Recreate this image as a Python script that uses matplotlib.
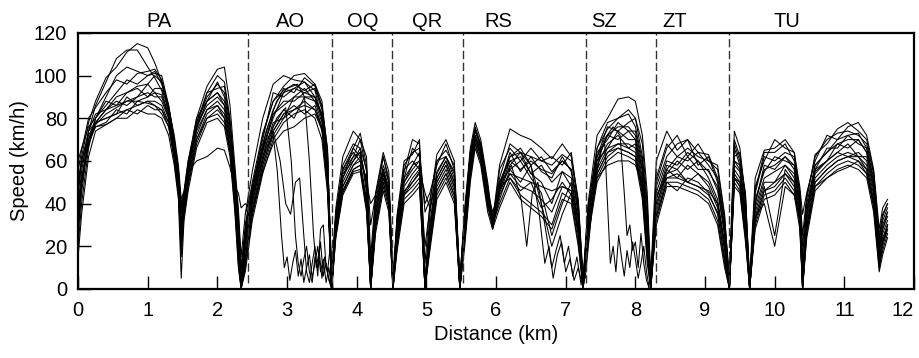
import matplotlib
matplotlib.use("Agg")
import matplotlib.pyplot as plt

plt.rcParams["font.family"] = ["Liberation Sans", "DejaVu Sans"]
plt.rcParams["font.size"] = 14.5

# shared distance grid (km) for the full runs
dist_km = [
    0.00, 0.05, 0.15, 0.25, 0.40, 0.55, 0.70, 0.85, 1.00, 1.10, 1.20, 1.30, 1.38, 1.44, 1.48, 1.52,
    1.58, 1.70, 1.85, 2.00, 2.10, 2.18, 2.25, 2.30, 2.34, 2.40,
    2.50, 2.65, 2.80, 2.95, 3.10, 3.25, 3.40, 3.50, 3.58, 3.64,
    3.70, 3.80, 3.95, 4.05, 4.14, 4.20, 4.27, 4.38, 4.46, 4.52,
    4.58, 4.68, 4.80, 4.90, 4.98, 5.05, 5.15, 5.28, 5.40, 5.48,
    5.55, 5.63, 5.70, 5.78, 5.88, 5.95, 6.05, 6.20, 6.35, 6.50,
    6.65, 6.80, 6.95, 7.08, 7.18, 7.25, 7.32, 7.45, 7.60, 7.75,
    7.90, 8.00, 8.10, 8.17, 8.22, 8.30, 8.45, 8.60, 8.75, 8.90,
    9.05, 9.18, 9.28, 9.35, 9.42, 9.50, 9.58, 9.64, 9.72, 9.85,
    10.00, 10.15, 10.28, 10.36, 10.40, 10.46, 10.58, 10.75, 10.90, 11.05,
    11.20, 11.32, 11.42, 11.50, 11.55, 11.62,
]

# speed (km/h) of each run on that grid
run_01 = [
    45, 62, 78, 88, 99, 104, 111, 115, 113, 106, 97, 82, 68, 55, 35, 42,
    58, 80, 95, 103, 104, 86, 58, 38, 15, 35,
    55, 80, 96, 100, 98, 97, 93, 80, 62, 8,
    38, 62, 74, 70, 62, 15, 45, 64, 55, 5,
    35, 60, 63, 70, 12, 40, 63, 70, 60, 4,
    38, 66, 78, 70, 50, 32, 58, 75, 72, 70,
    66, 61, 68, 62, 42, 5, 40, 72, 80, 89,
    90, 88, 72, 45, 6, 60, 74, 65, 70, 64,
    63, 52, 30, 4, 74, 66, 42, 5, 52, 65,
    66, 70, 64, 45, 20, 42, 63, 68, 75, 78,
    74, 70, 55, 25, 35, 40,
]
run_02 = [
    30, 50, 74, 86, 97, 108, 112, 112, 104, 99, 93, 80, 66, 52, 25, 40,
    56, 76, 92, 100, 97, 80, 55, 35, 10, 30,
    50, 73, 88, 95, 100, 101, 96, 85, 65, 3,
    35, 56, 66, 73, 58, 5, 40, 62, 52, 2,
    30, 55, 70, 68, 5, 35, 60, 65, 58, 2,
    35, 64, 74, 68, 48, 30, 56, 66, 60, 66,
    60, 62, 58, 64, 40, 3, 38, 66, 75, 80,
    84, 80, 68, 40, 3, 50, 66, 72, 62, 68,
    60, 58, 35, 2, 70, 62, 45, 3, 48, 60,
    70, 66, 64, 48, 35, 45, 60, 72, 70, 76,
    78, 72, 56, 28, 38, 42,
]
run_03 = [
    55, 65, 80, 85, 92, 98, 96, 101, 102, 103, 98, 84, 70, 55, 40, 45,
    60, 78, 90, 96, 92, 78, 52, 30, 5, 28,
    48, 70, 92, 90, 94, 97, 90, 80, 58, 2,
    32, 55, 62, 70, 55, 8, 38, 58, 50, 3,
    32, 52, 66, 62, 40, 45, 58, 68, 56, 3,
    32, 62, 75, 66, 46, 34, 50, 62, 66, 58,
    62, 55, 60, 56, 38, 2, 36, 62, 76, 74,
    78, 80, 62, 38, 2, 48, 62, 68, 70, 58,
    62, 50, 28, 2, 62, 64, 40, 2, 45, 62,
    60, 64, 62, 44, 15, 40, 58, 64, 70, 72,
    73, 66, 52, 22, 32, 38,
]
run_04 = [
    20, 40, 66, 80, 86, 92, 98, 96, 100, 102, 96, 85, 72, 58, 42, 46,
    60, 80, 88, 97, 90, 76, 50, 28, 2, 25,
    46, 68, 84, 94, 92, 99, 95, 86, 66, 0,
    30, 52, 66, 62, 50, 2, 35, 56, 48, 0,
    28, 50, 58, 64, 2, 30, 55, 62, 55, 0,
    30, 60, 74, 67, 45, 28, 48, 64, 55, 62,
    55, 52, 62, 55, 35, 0, 34, 64, 70, 78,
    74, 74, 58, 30, 0, 45, 60, 58, 64, 60,
    55, 48, 25, 0, 66, 58, 38, 0, 42, 55,
    62, 60, 58, 42, 8, 38, 56, 66, 66, 72,
    68, 66, 50, 20, 30, 36,
]
run_05 = [
    40, 55, 74, 82, 84, 90, 92, 95, 96, 100, 97, 86, 70, 54, 38, 44,
    58, 76, 88, 92, 88, 74, 48, 25, 0, 22,
    44, 66, 80, 92, 94, 92, 94, 84, 60, 5,
    36, 56, 64, 60, 52, 10, 42, 52, 46, 4,
    34, 56, 60, 56, 20, 38, 54, 62, 52, 5,
    34, 60, 72, 66, 44, 30, 46, 60, 62, 54,
    50, 40, 55, 52, 32, 4, 36, 60, 72, 70,
    74, 70, 55, 28, 4, 42, 56, 62, 60, 64,
    58, 52, 32, 5, 60, 56, 35, 4, 40, 58,
    56, 62, 56, 40, 4, 36, 56, 60, 68, 66,
    70, 64, 48, 18, 28, 34,
]
run_06 = [
    60, 66, 76, 80, 88, 86, 92, 94, 90, 94, 94, 84, 68, 52, 30, 42,
    56, 76, 86, 90, 86, 72, 46, 22, 0, 20,
    42, 66, 82, 86, 90, 94, 88, 82, 58, 2,
    34, 54, 60, 64, 50, 4, 36, 56, 46, 1,
    30, 50, 56, 60, 0, 28, 52, 60, 50, 1,
    30, 58, 72, 64, 44, 32, 50, 56, 60, 52,
    45, 25, 40, 50, 30, 1, 34, 60, 66, 74,
    70, 70, 52, 25, 1, 40, 54, 60, 56, 60,
    52, 42, 22, 1, 58, 55, 32, 1, 38, 52,
    55, 58, 54, 38, 2, 34, 55, 60, 64, 68,
    62, 62, 46, 16, 26, 32,
]
run_07 = [
    25, 45, 70, 78, 84, 86, 88, 90, 96, 92, 91, 82, 66, 50, 28, 40,
    54, 74, 84, 88, 84, 70, 44, 20, 0, 18,
    40, 62, 78, 80, 90, 90, 90, 80, 55, 0,
    30, 50, 60, 66, 45, 0, 34, 54, 44, 0,
    26, 48, 54, 58, 0, 26, 50, 58, 48, 0,
    28, 56, 70, 62, 42, 28, 45, 58, 64, 54,
    58, 50, 55, 48, 28, 0, 32, 58, 68, 72,
    66, 68, 50, 22, 0, 38, 56, 52, 58, 54,
    50, 40, 20, 0, 56, 52, 30, 0, 36, 50,
    50, 58, 52, 36, 0, 32, 54, 60, 64, 62,
    64, 60, 44, 14, 24, 30,
]
run_08 = [
    35, 50, 68, 76, 78, 84, 82, 88, 90, 92, 88, 80, 64, 48, 22, 38,
    52, 72, 84, 86, 82, 68, 42, 18, 0, 15,
    38, 60, 76, 84, 80, 90, 88, 78, 52, 0,
    28, 48, 58, 60, 42, 0, 32, 52, 42, 0,
    24, 46, 50, 55, 0, 24, 48, 56, 46, 0,
    26, 55, 70, 62, 40, 30, 42, 56, 50, 58,
    40, 20, 35, 45, 28, 0, 30, 56, 66, 68,
    68, 66, 48, 20, 0, 36, 54, 56, 50, 54,
    48, 38, 18, 0, 54, 50, 28, 0, 34, 48,
    25, 56, 50, 34, 0, 30, 52, 58, 62, 64,
    62, 58, 42, 12, 22, 28,
]
run_09 = [
    50, 60, 72, 78, 80, 82, 90, 86, 88, 88, 86, 78, 62, 46, 20, 36,
    50, 70, 82, 86, 80, 66, 40, 15, 0, 12,
    36, 58, 74, 82, 86, 82, 86, 76, 50, 0,
    26, 46, 56, 58, 40, 0, 30, 50, 40, 0,
    22, 44, 48, 52, 0, 22, 46, 54, 44, 0,
    24, 54, 68, 60, 40, 34, 48, 52, 46, 50,
    38, 42, 50, 44, 25, 0, 28, 54, 64, 68,
    66, 64, 46, 18, 0, 34, 50, 46, 52, 50,
    45, 35, 15, 0, 52, 48, 26, 0, 32, 46,
    48, 54, 48, 32, 0, 28, 50, 56, 60, 62,
    60, 56, 40, 10, 20, 28,
]
run_10 = [
    15, 35, 62, 74, 77, 80, 84, 82, 86, 84, 84, 76, 60, 44, 15, 34,
    48, 68, 80, 82, 78, 64, 38, 12, 0, 10,
    34, 56, 72, 80, 84, 86, 84, 74, 48, 0,
    25, 45, 55, 56, 38, 0, 28, 48, 38, 0,
    20, 42, 46, 50, 0, 20, 44, 52, 42, 0,
    22, 52, 68, 60, 38, 30, 40, 52, 44, 40,
    36, 30, 45, 42, 22, 0, 26, 52, 62, 66,
    64, 62, 44, 15, 0, 32, 50, 50, 48, 46,
    42, 32, 12, 0, 50, 46, 24, 0, 30, 44,
    46, 52, 46, 30, 0, 26, 48, 54, 58, 60,
    58, 54, 38, 10, 18, 26,
]
run_11 = [
    45, 58, 70, 76, 77, 80, 80, 84, 82, 82, 80, 72, 58, 42, 5, 32,
    46, 66, 78, 80, 76, 62, 36, 10, 0, 8,
    32, 54, 70, 78, 82, 84, 80, 70, 45, 0,
    24, 44, 54, 55, 36, 0, 26, 46, 36, 0,
    18, 40, 44, 48, 0, 18, 42, 50, 40, 0,
    20, 50, 66, 58, 36, 28, 38, 50, 42, 38,
    34, 28, 42, 40, 20, 0, 24, 50, 60, 64,
    62, 60, 42, 12, 0, 30, 48, 48, 46, 44,
    40, 30, 10, 0, 48, 45, 22, 0, 28, 42,
    44, 50, 44, 28, 0, 24, 46, 52, 56, 58,
    56, 52, 36, 8, 16, 24,
]
run_12 = [
    38, 52, 68, 77, 82, 85, 88, 88, 87, 86, 84, 78, 64, 50, 32, 40,
    55, 60, 62, 66, 65, 57, 48, 45, 38, 40,
    36, 55, 68, 74, 76, 80, 82, 75, 55, 3,
    30, 48, 58, 62, 50, 40, 44, 56, 42, 2,
    25, 45, 52, 56, 45, 38, 50, 58, 48, 2,
    28, 56, 70, 64, 46, 36, 46, 54, 52, 50,
    48, 46, 48, 46, 34, 2, 30, 52, 58, 60,
    60, 58, 50, 30, 2, 44, 52, 54, 50, 48,
    46, 40, 20, 2, 52, 50, 36, 2, 34, 40,
    20, 48, 44, 34, 10, 28, 48, 52, 55, 57,
    60, 54, 40, 14, 22, 30,
]
run_13 = [
    28, 48, 70, 80, 90, 100, 104, 102, 100, 101, 100, 86, 70, 56, 36, 44,
    57, 78, 92, 94, 95, 78, 52, 32, 8, 26,
    46, 72, 88, 93, 96, 93, 96, 88, 64, 4,
    34, 58, 68, 66, 56, 30, 44, 62, 50, 3,
    32, 58, 64, 66, 36, 42, 60, 62, 54, 3,
    36, 64, 76, 68, 48, 32, 52, 68, 64, 62,
    60, 58, 63, 60, 40, 3, 38, 66, 78, 80,
    82, 76, 60, 34, 3, 52, 68, 62, 66, 62,
    60, 56, 34, 3, 68, 60, 44, 3, 46, 64,
    64, 68, 60, 46, 25, 44, 62, 70, 73, 74,
    72, 68, 54, 24, 34, 40,
]
run_14 = [
    50, 60, 74, 78, 84, 88, 86, 90, 92, 90, 90, 80, 65, 50, 26, 40,
    54, 75, 88, 92, 86, 72, 46, 24, 3, 22,
    42, 64, 82, 88, 88, 92, 90, 82, 56, 1,
    30, 52, 62, 64, 48, 2, 36, 54, 46, 1,
    28, 52, 58, 60, 2, 30, 52, 60, 50, 1,
    30, 58, 72, 64, 44, 30, 50, 60, 56, 60,
    56, 54, 60, 56, 36, 1, 34, 62, 72, 76,
    76, 72, 56, 26, 1, 42, 58, 56, 62, 56,
    56, 46, 26, 1, 60, 58, 36, 1, 40, 56,
    58, 62, 58, 40, 5, 36, 58, 64, 68, 70,
    70, 64, 48, 18, 28, 36,
]
run_15 = [
    35, 52, 68, 78, 80, 82, 84, 86, 88, 86, 82, 76, 62, 46, 18, 36,
    50, 70, 80, 84, 80, 66, 40, 16, 0, 14,
    36, 58, 74, 82, 84, 88, 84, 76, 50, 0,
    28, 46, 56, 58, 40, 0, 30, 50, 40, 0,
    22, 44, 50, 54, 0, 22, 46, 54, 44, 0,
    24, 54, 68, 60, 40, 30, 44, 54, 48, 46,
    42, 36, 48, 46, 26, 0, 28, 54, 64, 66,
    64, 62, 46, 18, 0, 34, 52, 52, 50, 48,
    44, 36, 14, 0, 52, 48, 26, 0, 32, 46,
    50, 54, 50, 32, 0, 28, 50, 56, 60, 62,
    62, 56, 40, 12, 22, 30,
]
full_runs = [run_01, run_02, run_03, run_04, run_05, run_06, run_07, run_08,
             run_09, run_10, run_11, run_12, run_13, run_14, run_15]

# runs that stop in a queue (own distance points)
queue_ao_1_km = [2.40, 2.55, 2.70, 2.80, 2.86, 2.92, 2.96, 3.00, 3.04, 3.08, 3.12, 3.16,
                 3.20, 3.24, 3.28, 3.32, 3.36, 3.40, 3.44, 3.48, 3.52, 3.56, 3.60, 3.64]
queue_ao_1 = [30, 50, 66, 72, 55, 25, 10, 15, 4, 12, 18, 6,
              14, 3, 10, 16, 5, 12, 20, 8, 14, 3, 10, 0]
queue_ao_2_km = [2.40, 2.55, 2.70, 2.85, 2.98, 3.06, 3.12, 3.16, 3.20, 3.24,
                 3.28, 3.32, 3.36, 3.40, 3.44, 3.48, 3.52, 3.56, 3.60, 3.64]
queue_ao_2 = [25, 48, 68, 80, 85, 60, 25, 12, 6, 14,
              20, 8, 3, 15, 10, 22, 6, 12, 4, 0]
queue_ao_3_km = [2.40, 2.55, 2.70, 2.80, 2.90, 2.98, 3.05, 3.12, 3.18, 3.24,
                 3.28, 3.32, 3.36, 3.40, 3.44, 3.48, 3.52, 3.56, 3.60, 3.64]
queue_ao_3 = [35, 55, 70, 74, 60, 40, 35, 50, 52, 25,
              8, 3, 12, 20, 6, 28, 30, 10, 5, 0]
queue_ao_4_km = [2.40, 2.55, 2.70, 2.85, 3.00, 3.15, 3.25, 3.32, 3.38, 3.42,
                 3.46, 3.50, 3.54, 3.58, 3.62, 3.66]
queue_ao_4 = [28, 52, 74, 88, 94, 96, 90, 60, 25, 10,
              18, 5, 15, 8, 20, 0]
queue_rs_1_km = [5.95, 6.05, 6.20, 6.35, 6.50, 6.62, 6.70, 6.76, 6.82, 6.88,
                 6.94, 7.00, 7.06, 7.12, 7.18, 7.25]
queue_rs_1 = [32, 48, 62, 64, 58, 35, 12, 20, 5, 16,
              22, 8, 14, 4, 10, 0]
queue_rs_2_km = [5.95, 6.08, 6.22, 6.36, 6.44, 6.52, 6.60, 6.70, 6.80, 6.86,
                 6.92, 6.98, 7.04, 7.10, 7.16, 7.22]
queue_rs_2 = [30, 50, 58, 42, 20, 45, 50, 30, 10, 18,
              25, 12, 20, 6, 15, 2]
queue_sz_1_km = [7.28, 7.40, 7.50, 7.56, 7.60, 7.64, 7.68, 7.72, 7.76, 7.80,
                 7.84, 7.88, 7.92, 7.96, 8.00, 8.04, 8.08, 8.12, 8.16, 8.20]
queue_sz_1 = [5, 45, 65, 68, 40, 12, 20, 8, 25, 15,
              6, 18, 10, 22, 14, 5, 12, 20, 8, 0]
queue_sz_2_km = [7.28, 7.42, 7.55, 7.68, 7.78, 7.84, 7.88, 7.92, 7.96, 8.00,
                 8.04, 8.08, 8.12, 8.16, 8.20]
queue_sz_2 = [8, 52, 70, 76, 72, 45, 25, 30, 18, 22,
              10, 26, 12, 4, 0]
queue_runs = [(queue_ao_1_km, queue_ao_1), (queue_ao_2_km, queue_ao_2),
              (queue_ao_3_km, queue_ao_3), (queue_ao_4_km, queue_ao_4),
              (queue_rs_1_km, queue_rs_1), (queue_rs_2_km, queue_rs_2),
              (queue_sz_1_km, queue_sz_1), (queue_sz_2_km, queue_sz_2)]

# link boundaries and labels
boundary_km = [2.44, 3.64, 4.51, 5.52, 7.29, 8.29, 9.35]
link_names = ["PA", "AO", "OQ", "QR", "RS", "SZ", "ZT", "TU"]
link_label_km = [1.16, 3.05, 4.09, 5.01, 6.03, 7.55, 8.56, 10.17]

fig = plt.figure(figsize=(9.19, 3.58), dpi=100)
ax = fig.add_axes([0.085, 0.193, 0.9096, 0.715])

for run in full_runs:
    ax.plot(dist_km, run, color="black", lw=0.75)
for d, s in queue_runs:
    ax.plot(d, s, color="black", lw=0.75)

ax.vlines(boundary_km, 3, 120, colors="#333333", lw=1.0, linestyles=(0, (6, 2.5)))

for x, name in zip(link_label_km, link_names):
    ax.text(x, 1.025, name, transform=ax.get_xaxis_transform(),
            ha="center", va="baseline")

ax.set_xlim(0, 12)
ax.set_ylim(0, 120)
ax.set_xticks(range(0, 13))
ax.set_yticks(range(0, 121, 20))
ax.tick_params(direction="in", length=9.5, width=1.0, pad=8)
ax.tick_params(axis="x", pad=9)
ax.get_xticklabels()[-1].set_ha("right")
for sp in ax.spines.values():
    sp.set_linewidth(1.6)

ax.set_xlabel("Distance (km)", labelpad=3)
ax.set_ylabel("Speed (km/h)", labelpad=3)

fig.savefig("out.png", dpi=100)
